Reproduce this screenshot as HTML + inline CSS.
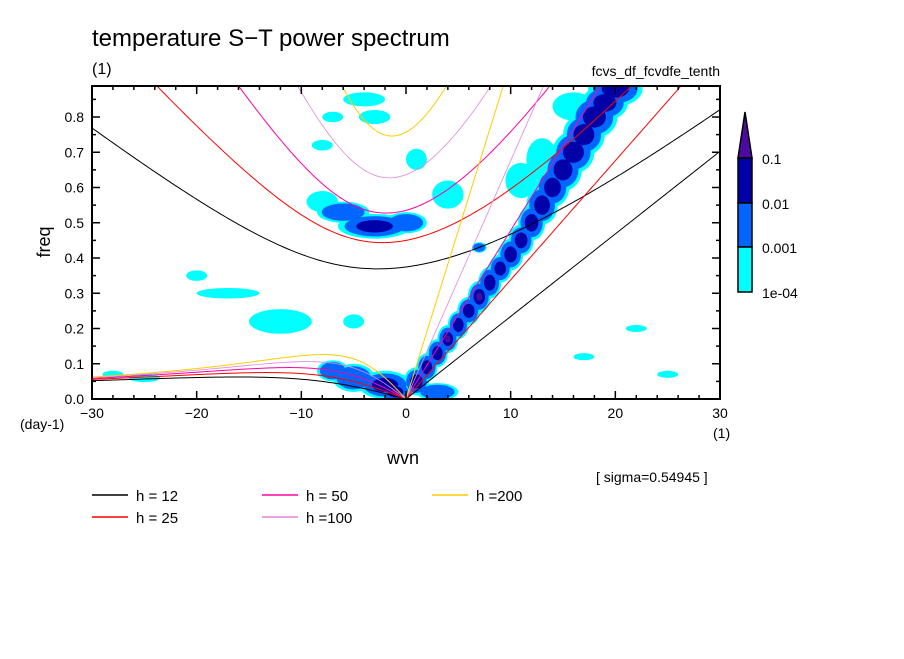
<!DOCTYPE html>
<html><head><meta charset="utf-8"><style>
body{margin:0;background:#fff;}
svg text{font-family:"Liberation Sans",sans-serif;fill:#000;}
</style></head><body>
<svg id="c" width="904" height="654" xmlns="http://www.w3.org/2000/svg">
<defs><clipPath id="clip"><rect x="92" y="86" width="628" height="313"/></clipPath></defs>
<text x="92" y="46" font-size="24">temperature S−T power spectrum</text>
<text x="92" y="74" font-size="16">(1)</text>
<text x="720" y="76" font-size="14" text-anchor="end">fcvs_df_fcvdfe_tenth</text>
<g id="contours" clip-path="url(#clip)"></g>
<g id="curves" clip-path="url(#clip)"></g>
<rect x="92" y="86" width="628" height="313" fill="none" stroke="#000" stroke-width="2"/>
<g id="axes"></g>
<text x="50" y="242" font-size="18" text-anchor="middle" transform="rotate(-90 50 242)">freq</text>
<text x="20" y="429" font-size="14">(day-1)</text>
<text x="713" y="438" font-size="14">(1)</text>
<text x="403" y="464" font-size="18" text-anchor="middle">wvn</text>
<text x="596" y="482" font-size="14">[ sigma=0.54945 ]</text>
<g id="colorbar"></g>
<g id="legend"></g>
</svg>
<script>
const NS="http://www.w3.org/2000/svg";
const depths=[12,25,50,100,200];
const depthColors=["#000000","#ff0000","#ff00aa","#dd88dd","#ffcc00"];
const legendLabels=["h = 12","h = 25","h = 50","h =100","h =200"];
const xTicks=[-30,-20,-10,0,10,20,30];
const yTicks=[0,0.1,0.2,0.3,0.4,0.5,0.6,0.7,0.8];
const cbLabels=["0.1","0.01","0.001","1e-04"];
const levelColors=["#00ffff","#0066ff","#0000a8","#4b0aa0"];
// blobs: wavenumber, frequency, half-width (wvn), half-height (freq), max level
const blobS=[1,2,3,4,5,6,7,8,9,10,11,12,13,14,15,16,17,18,19,20, 13,16,11, -2,-5,-7,3,-1, -3,-6,0,-8, -12,-17,-20,-4,-3,-7,-8,1,4,7,-5,22,-25,-28,17,25];
const blobF=[0.05,0.09,0.13,0.17,0.21,0.25,0.29,0.33,0.37,0.41,0.45,0.50,0.55,0.60,0.65,0.70,0.75,0.80,0.84,0.88, 0.68,0.83,0.62, 0.04,0.06,0.08,0.02,0.02, 0.49,0.53,0.50,0.56, 0.22,0.30,0.35,0.85,0.80,0.80,0.72,0.68,0.58,0.43,0.22,0.20,0.06,0.07,0.12,0.07];
const blobRs=[1.2,1,1,1,1,1.1,1.1,1.1,1.1,1.2,1.2,1.3,1.5,1.6,1.8,2,2,2.2,2.2,2.6, 1.5,2,1.5, 2.5,2,1.5,2,1.5, 3.5,2.5,2,1.5, 3,3,1,2,1.5,1,1,1,1.5,0.7,1,1,1.5,1,1,1];
const blobRf=[0.04,0.04,0.04,0.04,0.04,0.04,0.045,0.045,0.04,0.045,0.045,0.05,0.055,0.055,0.06,0.06,0.06,0.06,0.05,0.05, 0.06,0.04,0.05, 0.04,0.04,0.03,0.025,0.03, 0.035,0.03,0.03,0.03, 0.035,0.015,0.015,0.02,0.02,0.015,0.015,0.03,0.04,0.015,0.02,0.01,0.012,0.01,0.01,0.01];
const blobLevel=[3,3,3,4,3,3,4,3,3,3,3,3,3,3,3,3,3,3,3,3, 1,1,1, 3,2,2,2,4, 3,2,2,1, 1,1,1,1,1,1,1,1,1,2,1,1,1,1,1,1];

const X0=92,X1=720,Y0=399,PY=352.5;
const xs=s=>X0+(s+30)/60*(X1-X0);
const ys=f=>Y0-f*PY;
function el(tag,attrs,parent){const e=document.createElementNS(NS,tag);for(const k in attrs)e.setAttribute(k,attrs[k]);parent.appendChild(e);return e;}

const cg=document.getElementById('contours');
const scales=[1,0.82,0.5,0.25];
for(let lv=0;lv<4;lv++){
  for(let i=0;i<blobS.length;i++){
    if(blobLevel[i]<=lv) continue;
    const e=el('ellipse',{cx:xs(blobS[i]),cy:ys(blobF[i]),rx:blobRs[i]*10.47*scales[lv],ry:blobRf[i]*PY*scales[lv],fill:levelColors[lv]},cg);
    
    
  }
}

// dispersion curves
const g=9.81,beta=2.28e-11,a=6.371e6,conv=86400/(2*Math.PI);
const cv=document.getElementById('curves');
depths.forEach((h,j)=>{
  const c=Math.sqrt(g*h);
  let ig=[],er=[],kv=[];
  for(let s=-30;s<=30.001;s+=0.25){
    const k=s/a;
    const A=c*c*k*k+3*beta*c, B=beta*k*c*c;
    let w=Math.sqrt(A)+1e-5;
    for(let it=0;it<40;it++){const fv=w*w*w-A*w-B,d=3*w*w-A;w-=fv/d;}
    ig.push(xs(s).toFixed(2)+","+ys(w*conv).toFixed(2));
    if(s<=0){const wr=-beta*k/(k*k+3*beta/c);er.push(xs(s).toFixed(2)+","+ys(wr*conv).toFixed(2));}
    if(s>=0){kv.push(xs(s).toFixed(2)+","+ys(c*k*conv).toFixed(2));}
  }
  const sw=(j==3)?0.8:1;
  [["ig",ig],["er",er],["kelvin",kv]].forEach(([n,p])=>{
    const e=el('polyline',{points:p.join(" "),fill:"none",stroke:depthColors[j],"stroke-width":sw},cv);
    
    
  });
});

// axes
const ax=document.getElementById('axes');
for(let s=-30;s<=30;s+=2){
  const maj=(s%10===0),L=maj?8:4;
  el('line',{x1:xs(s),x2:xs(s),y1:Y0,y2:Y0-L,stroke:"#000","stroke-width":1.5},ax);
  el('line',{x1:xs(s),x2:xs(s),y1:86,y2:86+L,stroke:"#000","stroke-width":1.5},ax);
}
xTicks.forEach(s=>{const t=el('text',{x:xs(s),y:418,"font-size":14,"text-anchor":"middle"},ax);t.textContent=(s<0?"−"+(-s):s);
  });
for(let f=0;f<=0.88;f+=0.05){
  const maj=Math.abs(f*10-Math.round(f*10))<1e-6,L=maj?8:4;
  el('line',{x1:X0,x2:X0+L,y1:ys(f),y2:ys(f),stroke:"#000","stroke-width":1.5},ax);
  el('line',{x1:X1,x2:X1-L,y1:ys(f),y2:ys(f),stroke:"#000","stroke-width":1.5},ax);
}
yTicks.forEach(f=>{const t=el('text',{x:84,y:ys(f)+5,"font-size":14,"text-anchor":"end"},ax);t.textContent=f.toFixed(1);
  });

// colorbar
const cb=document.getElementById('colorbar');
const cbTop=[158,203,247],cbCol=["#0000a8","#0066ff","#00ffff"];
cbTop.forEach((y,i)=>{const r=el('rect',{x:738,y:y,width:14,height:(i<2?cbTop[i+1]:292)-y,fill:cbCol[i],stroke:"#000","stroke-width":1.5},cb);
  });
const tri=el('polygon',{points:"738,158 752,158 745,112",fill:"#4b0aa0",stroke:"#000","stroke-width":1.5},cb);

const cbY=[158,203,247,292];
cbLabels.forEach((l,i)=>{const t=el('text',{x:762,y:cbY[i]+6,"font-size":14},cb);t.textContent=l;
  });

// legend
const lg=document.getElementById('legend');
const lgX=[92,92,262,262,432],lgY=[495,517,495,517,495];
legendLabels.forEach((l,i)=>{
  const ln=el('line',{x1:lgX[i],x2:lgX[i]+36,y1:lgY[i],y2:lgY[i],stroke:depthColors[i],"stroke-width":1.5},lg);
  
  const t=el('text',{x:lgX[i]+44,y:lgY[i]+6,"font-size":15},lg);t.textContent=l;
  
});
</script>
</body></html>
